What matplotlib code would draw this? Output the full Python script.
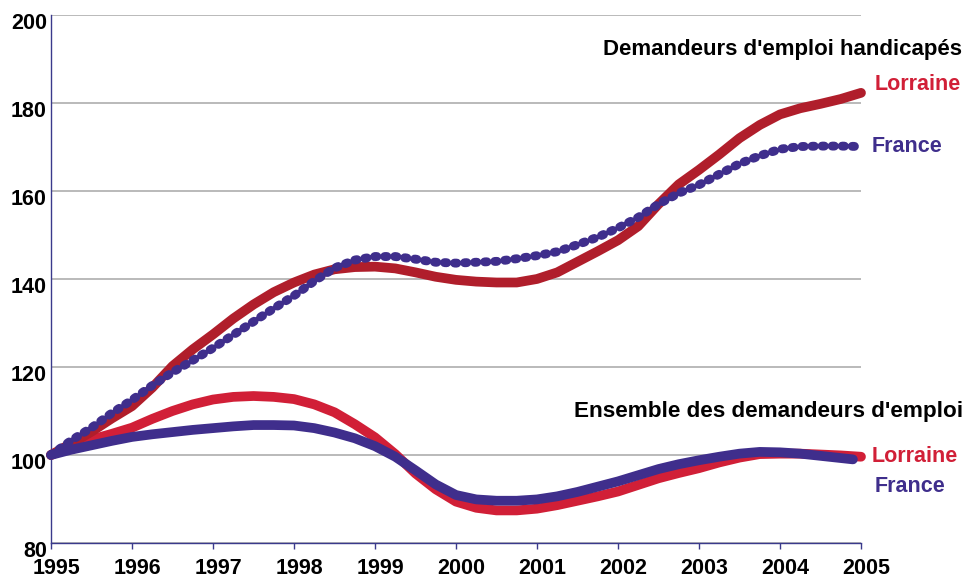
import numpy as np
import matplotlib.pyplot as plt
import matplotlib.transforms as mtransforms

# quarterly index, base 100 in 1995
years = np.arange(1995, 2005.01, 0.25)

lorraine_handi = [
    100.0, 102.6, 105.3, 108.3, 111.1, 115.3, 120.2, 124.0, 127.4, 131.0,
    134.2, 137.0, 139.2, 141.0, 142.2, 142.7, 142.8, 142.4, 141.5, 140.5,
    139.8, 139.4, 139.2, 139.2, 140.0, 141.5, 143.9, 146.3, 148.8, 152.0,
    157.0, 161.5, 164.8, 168.3, 172.0, 175.0, 177.4, 178.8, 179.8, 180.9,
    182.3,
]
france_handi = [
    100.0, 103.3, 106.2, 109.5, 112.5, 115.8, 118.8, 121.5, 124.3, 127.3,
    130.3, 133.3, 136.2, 139.5, 142.5, 144.3, 145.1, 145.1, 144.5, 143.8,
    143.6, 143.8, 144.0, 144.6, 145.3, 146.2, 147.8, 149.5, 151.6, 154.0,
    157.0, 159.5, 161.4, 163.8, 166.2, 168.0, 169.5, 170.1, 170.2, 170.2,
    170.1,
]
lorraine_ens = [
    100.0, 101.8, 103.5, 104.8, 106.2, 108.2, 110.0, 111.5, 112.6, 113.2,
    113.4, 113.2, 112.7, 111.5, 109.7, 107.0, 104.0, 100.2, 95.8, 92.2,
    89.4, 88.0, 87.4, 87.4, 87.8, 88.6, 89.6, 90.6, 91.7, 93.2,
    94.7, 95.9, 97.0, 98.3, 99.4, 100.2, 100.3, 100.3, 100.1, 99.9,
    99.6,
]
# French series stops just before 2005
france_ens_years = np.append(years[:-1], 2004.9)
france_ens = [
    100.0, 101.2, 102.2, 103.2, 104.1, 104.7, 105.2, 105.7, 106.1, 106.5,
    106.8, 106.8, 106.7, 106.1, 105.1, 103.8, 102.0, 99.6, 96.5, 93.3,
    90.9, 89.9, 89.6, 89.6, 89.9, 90.6, 91.6, 92.8, 94.0, 95.4,
    96.8, 97.9, 98.8, 99.6, 100.3, 100.7, 100.6, 100.3, 99.8, 99.3,
    99.0,
]

DARK_RED = "#b01e2b"
RED = "#d11f37"
PURPLE = "#3f2e8c"
AXIS = "#3a3a8c"

plt.rcParams["font.family"] = ["Liberation Sans", "DejaVu Sans"]
plt.rcParams["font.weight"] = "bold"

fig = plt.figure(figsize=(9.66, 5.78), dpi=100)
ax = fig.add_axes([0.0528, 0.0606, 0.8385, 0.9135])

ax.plot(years, lorraine_ens, color=RED, lw=7, solid_capstyle="round",
        solid_joinstyle="round", clip_on=False, zorder=3)
ax.plot(france_ens_years, france_ens, color=PURPLE, lw=7, solid_capstyle="round",
        solid_joinstyle="round", clip_on=False, zorder=4)
ax.plot(years, lorraine_handi, color=DARK_RED, lw=7, solid_capstyle="round",
        solid_joinstyle="round", clip_on=False, zorder=3)
ax.plot(years, france_handi, color=PURPLE, lw=6.4, linestyle=(0, (0.25, 0.88)),
        dash_capstyle="round", clip_on=False, zorder=5)

ax.set_xlim(1995, 2005)
ax.set_ylim(80, 200)
ax.set_xticks(np.arange(1995, 2006, 1))
ax.set_yticks(np.arange(80, 201, 20))
ax.yaxis.grid(True, color="#b4b4b4", lw=1.3)
ax.set_axisbelow(True)

for s in ["top", "right"]:
    ax.spines[s].set_visible(False)
for s in ["left", "bottom"]:
    ax.spines[s].set_color(AXIS)
    ax.spines[s].set_linewidth(1.0)

ax.tick_params(axis="y", length=0, pad=3, labelsize=15.5)
ax.tick_params(axis="x", length=4, width=1, color=AXIS, pad=7, labelsize=15.5)
up = mtransforms.ScaledTranslation(0, 0.02, fig.dpi_scale_trans)
for lab in ax.get_yticklabels():
    lab.set_va("top")
    lab.set_transform(lab.get_transform() + up)
shift = mtransforms.ScaledTranslation(0.05, 0, fig.dpi_scale_trans)
for lab in ax.get_xticklabels():
    lab.set_transform(lab.get_transform() + shift)

def px(x, y):
    return x / 966, 1 - y / 578

fig.text(*px(962, 50), "Demandeurs d'emploi handicapés", ha="right", va="center",
         fontsize=16, fontweight="bold", color="black")
fig.text(*px(875, 85), "Lorraine", ha="left", va="center", fontsize=15.5,
         fontweight="bold", color=RED)
fig.text(*px(872, 147), "France", ha="left", va="center", fontsize=15.5,
         fontweight="bold", color=PURPLE)
fig.text(*px(963, 412), "Ensemble des demandeurs d'emploi", ha="right", va="center",
         fontsize=16.2, fontweight="bold", color="black")
fig.text(*px(872, 456), "Lorraine", ha="left", va="center", fontsize=15.5,
         fontweight="bold", color=RED)
fig.text(*px(875, 486), "France", ha="left", va="center", fontsize=15.5,
         fontweight="bold", color=PURPLE)

fig.savefig("out.png", dpi=100)
